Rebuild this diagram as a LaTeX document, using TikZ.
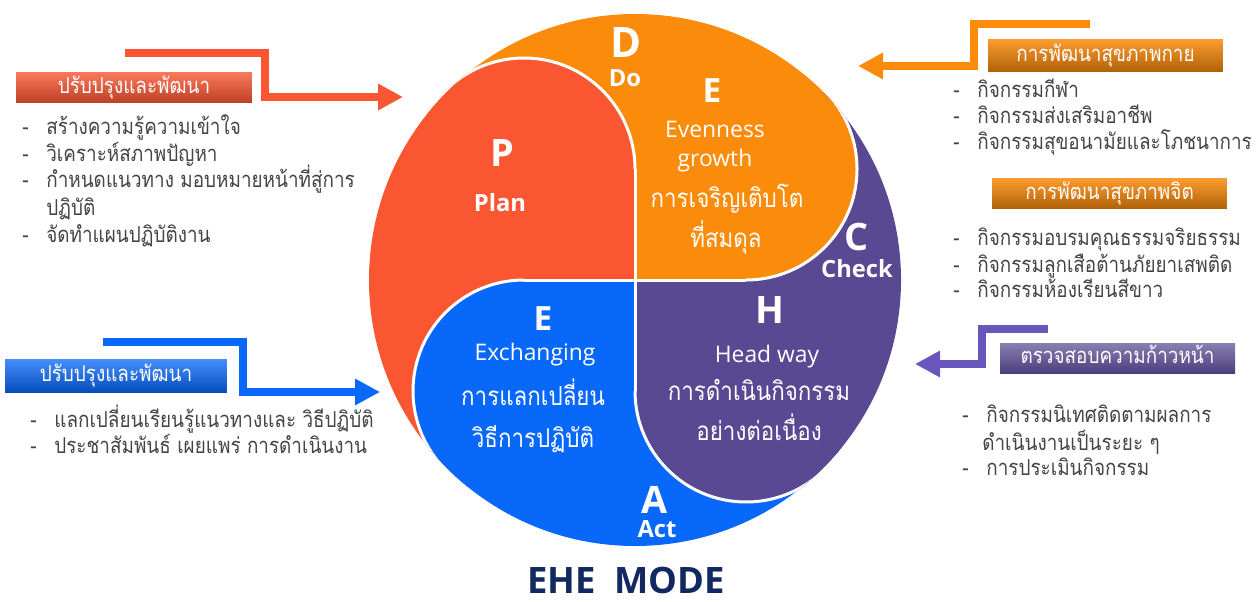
\documentclass[tikz,border=0pt]{standalone}
\usepackage{fontspec}
\setmainfont{Open Sans}
\newfontfamily\thai[Script=Thai, FakeStretch=0.86]{Loma}
\usetikzlibrary{arrows.meta}

\definecolor{plancol}{RGB}{250,86,50}
\definecolor{docol}{RGB}{251,139,11}
\definecolor{checkcol}{RGB}{88,73,146}
\definecolor{actcol}{RGB}{8,104,250}
\definecolor{checkarr}{RGB}{104,86,188}
\definecolor{listcol}{RGB}{68,68,68}
\definecolor{modecol}{RGB}{18,40,96}

\newcommand{\itm}{\makebox[0.48cm][l]{-}}

\begin{document}
\begin{tikzpicture}
    [
        x=0.02cm, y=0.02cm,
        hugeltr/.style = {font=\bfseries\fontsize{23.9}{24}\selectfont, text=white, inner sep=0pt, anchor=base},
        bigltr/.style = {font=\bfseries\fontsize{21.5}{22}\selectfont, text=white, inner sep=0pt, anchor=base},
        midltr/.style = {font=\bfseries\fontsize{19}{20}\selectfont, text=white, inner sep=0pt, anchor=base},
        word/.style = {font=\bfseries\fontsize{13.5}{14}\selectfont, text=white, inner sep=0pt, anchor=base},
        eng/.style = {font=\fontsize{13}{14}\selectfont, text=white, inner sep=0pt, anchor=base},
        thwhite/.style = {font=\thai\fontsize{14.8}{16}\selectfont, text=white, inner sep=0pt, anchor=base},
        item/.style = {font=\thai\fontsize{12.5}{14}\selectfont, text=listcol, inner sep=0pt, anchor=base west},
        tag/.style = {font=\thai\fontsize{12.5}{14}\selectfont, text=white, inner sep=0pt, text height=6.5pt, text depth=0pt},
        plantag/.style = {tag, top color=plancol!80!white, bottom color=plancol!75!black},
        acttag/.style = {tag, top color=actcol!75!white, bottom color=actcol!75!black},
        dotag/.style = {tag, top color=docol!85!white, bottom color=docol!70!black},
        checktag/.style = {tag, top color=checkcol!70!white, bottom color=checkcol!85!black},
        seam/.style = {draw=white, line width=0.06cm},
        arrw/.style = {line width=0.16cm, line join=miter, -{Triangle[length=0.5cm, width=0.5cm]}},
        mode/.style = {font=\bfseries\fontsize{20.7}{21}\selectfont, text=modecol, inner sep=0pt, anchor=base},
    ]

    \useasboundingbox (0,0) rectangle (1256,-601);

    \begin{scope}[shift={(635,-280)}]
        \clip (0,0) circle (266);
        \fill[plancol] (0,0) -- (-300,300) -- (-300,-300) -- cycle;
        \fill[docol] (0,0) -- (300,300) -- (-300,300) -- cycle;
        \fill[checkcol] (0,0) -- (300,-300) -- (300,300) -- cycle;
        \fill[actcol] (0,0) -- (-300,-300) -- (300,-300) -- cycle;
        \fill[plancol] (0,0) rectangle (-111,111);
        \fill[docol] (0,0) rectangle (111,111);
        \fill[checkcol] (0,0) rectangle (111,-111);
        \fill[actcol] (0,0) rectangle (-111,-111);
        \fill[plancol] (-111,111) circle (111);
        \fill[docol] (111,111) circle (111);
        \fill[checkcol] (111,-111) circle (111);
        \fill[actcol] (-111,-111) circle (111);
        \draw[seam] (-111,0) -- (111,0) (0,-111) -- (0,111);
        \draw[seam] (0,111) arc[start angle=0, end angle=140, radius=111];
        \draw[seam] (111,0) arc[start angle=-90, end angle=50, radius=111];
        \draw[seam] (0,-111) arc[start angle=180, end angle=320, radius=111];
        \draw[seam] (-111,0) arc[start angle=90, end angle=230, radius=111];
    \end{scope}

    \node[bigltr] (pP) at (502,-167) {P};
    \node[word] (pPlan) at (500,-212) {Plan};

    \node[hugeltr] (dD) at (626,-58) {D};
    \node[word] (dDo) at (625,-87) {Do};
    \node[midltr] (eE) at (712,-103) {E};
    \node[eng] (eEven) at (715,-138) {Evenness};
    \node[eng] (eGrow) at (715,-167) {growth};
    \node[thwhite] (eTh1) at (727,-207) {การเจริญเติบโต};
    \node[thwhite] (eTh2) at (726,-247) {ที่สมดุล};

    \node[bigltr] (cC) at (857,-250) {C};
    \node[word] (cCheck) at (857,-277) {Check};
    \node[bigltr] (hH) at (770,-323) {H};
    \node[eng] (hHead) at (767,-362) {Head way};
    \node[thwhite] (hTh1) at (759,-400) {การดำเนินกิจกรรม};
    \node[thwhite] (hTh2) at (759,-440) {อย่างต่อเนื่อง};

    \node[bigltr] (aA) at (655,-513) {A};
    \node[word] (aAct) at (657,-537) {Act};
    \node[midltr] (xE) at (543,-330) {E};
    \node[eng] (xExch) at (535,-360) {Exchanging};
    \node[thwhite] (xTh1) at (533,-405) {การแลกเปลี่ยน};
    \node[thwhite] (xTh2) at (533,-447) {วิธีการปฏิบัติ};

    \node[mode] (title) at (626,-593) {EHE\ \ MODE};

    \node[plantag, minimum width=4.72cm, minimum height=0.62cm] (ptag) at (134,-87.5) {ปรับปรุงและพัฒนา};
    \node[item] (p1) at (22,-135) {\itm สร้างความรู้ความเข้าใจ};
    \node[item] (p2) at (22,-162) {\itm วิเคราะห์สภาพปัญหา};
    \node[item] (p3) at (22,-188) {\itm กำหนดแนวทาง มอบหมายหน้าที่สู่การ};
    \node[item] (p3b) at (46,-215) {ปฏิบัติ};
    \node[item] (p4) at (22,-242) {\itm จัดทำแผนปฏิบัติงาน};

    \node[acttag, minimum width=4.44cm, minimum height=0.66cm] (atag) at (116,-375.5) {ปรับปรุงและพัฒนา};
    \node[item] (a1) at (30,-427) {\itm แลกเปลี่ยนเรียนรู้แนวทางและ วิธีปฏิบัติ};
    \node[item] (a2) at (30,-453) {\itm ประชาสัมพันธ์ เผยแพร่ การดำเนินงาน};

    \node[dotag, minimum width=4.7cm, minimum height=0.66cm] (dtag1) at (1105.5,-55.5) {การพัฒนาสุขภาพกาย};
    \node[item] (d1) at (953,-98) {\itm กิจกรรมกีฬา};
    \node[item] (d2) at (953,-124) {\itm กิจกรรมส่งเสริมอาชีพ};
    \node[item] (d3) at (953,-150) {\itm กิจกรรมสุขอนามัยและโภชนาการ};

    \node[dotag, minimum width=4.7cm, minimum height=0.62cm] (dtag2) at (1109.5,-193.5) {การพัฒนาสุขภาพจิต};
    \node[item] (d4) at (953,-245) {\itm กิจกรรมอบรมคุณธรรมจริยธรรม};
    \node[item] (d5) at (953,-272) {\itm กิจกรรมลูกเสือต้านภัยยาเสพติด};
    \node[item] (d6) at (953,-297) {\itm กิจกรรมห้องเรียนสีขาว};

    \node[checktag, minimum width=4.7cm, minimum height=0.6cm] (ctag) at (1117.5,-358) {ตรวจสอบความก้าวหน้า};
    \node[item] (c1) at (962,-422) {\itm กิจกรรมนิเทศติดตามผลการ};
    \node[item] (c1b) at (982,-450) {ดำเนินงานเป็นระยะ ๆ};
    \node[item] (c2) at (962,-475) {\itm การประเมินกิจกรรม};

    \coordinate (pa0) at (125,-53);
    \coordinate (pa1) at (265,-97);
    \coordinate (pa2) at (403,-97);
    \coordinate (aa0) at (103,-342);
    \coordinate (aa1) at (243,-392);
    \coordinate (aa2) at (380,-392);
    \coordinate (da0) at (1090,-24);
    \coordinate (da1) at (974,-66);
    \coordinate (da2) at (858,-66);
    \coordinate (ca0) at (1048,-329);
    \coordinate (ca1) at (982,-364);
    \coordinate (ca2) at (915,-364);

    \draw[arrw, plancol] (pa0) -| (pa1) -- (pa2);
    \draw[arrw, actcol] (aa0) -| (aa1) -- (aa2);
    \draw[arrw, docol] (da0) -| (da1) -- (da2);
    \draw[arrw, checkarr] (ca0) -| (ca1) -- (ca2);

\end{tikzpicture}
\end{document}
